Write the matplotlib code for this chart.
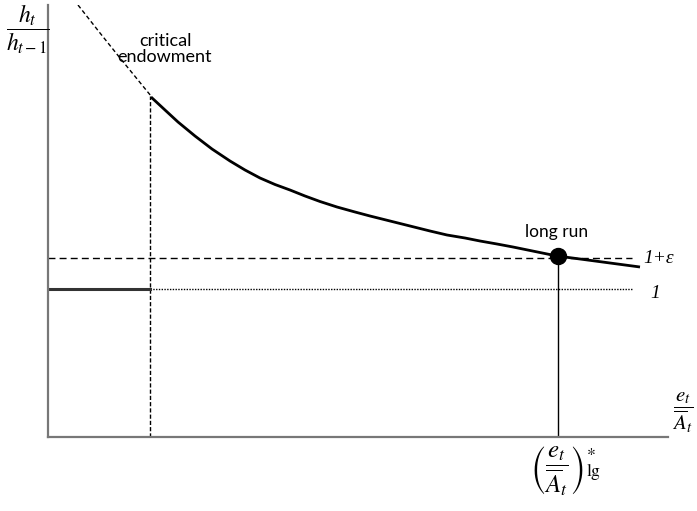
import matplotlib
matplotlib.use("Agg")
import matplotlib.pyplot as plt

plt.rcParams['mathtext.fontset'] = 'stix'

# Data (units ~ pixel offsets from origin)
dashed_x = [30, 52, 72, 103]
dashed_y = [432, 404, 379, 341]
solid_x = [103, 117, 130, 147, 164, 182, 197, 212, 227, 242, 257, 272, 289, 307,
           322, 342, 362, 382, 399, 417, 432, 449, 465, 487, 509, 532, 562, 592]
solid_y = [340, 327, 315, 301, 288, 276, 267, 259, 252.5, 247, 241, 235.5, 230, 225,
           221, 216, 211, 206, 202, 199, 196, 193, 190, 185.5, 181, 178, 174, 170]
critical_x = 102
longrun_x = 510
longrun_y = 181
level_eps = 179
level_one = 148
x_max = 620
y_max = 432

W, H = 697, 511
fig = plt.figure(figsize=(W / 100, H / 100), dpi=100)
ax = fig.add_axes([48 / W, (H - 437) / H, 620 / W, 432 / H])
ax.set_xlim(0, x_max)
ax.set_ylim(0, y_max)
for s in ['top', 'right']:
    ax.spines[s].set_visible(False)
for s in ['left', 'bottom']:
    ax.spines[s].set_color('#777777')
    ax.spines[s].set_linewidth(1.6)
ax.set_xticks([])
ax.set_yticks([])

ax.plot(dashed_x, dashed_y, color='black', lw=1, linestyle=(0, (3, 2)))
ax.plot(solid_x, solid_y, color='black', lw=2, solid_capstyle='butt', solid_joinstyle='round')
ax.plot([critical_x, critical_x], [0, dashed_y[-1]], color='black', lw=1, linestyle=(0, (3, 1.5)))
ax.plot([0, 584], [level_eps, level_eps], color='black', lw=1, linestyle=(0, (5, 3)))
ax.plot([critical_x, 584], [level_one, level_one], color='black', lw=1, linestyle=(0, (1, 1)))
ax.plot([0, critical_x], [level_one, level_one], color='#333333', lw=2.2)
ax.plot([longrun_x, longrun_x], [0, longrun_y], color='black', lw=1)
ax.plot([longrun_x], [longrun_y], 'o', color='black', markersize=11.5)

ax.text(117, 388, 'critical\nendowment', ha='center', va='center', fontsize=13,
        family='Lato', linespacing=1.0, clip_on=False)
ax.text(longrun_x - 1, 205, 'long run', ha='center', va='center', fontsize=12.5,
        family='Lato', clip_on=False)
ax.text(595, level_eps, '1+ε', ha='left', va='center', fontsize=14,
        family='Liberation Serif', style='italic', clip_on=False)
ax.text(602, level_one - 4, '1', ha='left', va='center', fontsize=14,
        family='Liberation Serif', style='italic', clip_on=False)
ax.text(-20, 408, r'$\dfrac{h_t}{h_{t-1}}$', ha='center', va='center', fontsize=17, clip_on=False)
ax.text(635, 24, r'$\dfrac{e_t}{\overline{A}_t}$', ha='center', va='center', fontsize=15, clip_on=False)
ax.text(longrun_x + 8, -33, r'$\left(\dfrac{e_t}{\overline{A}_t}\right)^{*}_{\mathrm{lg}}$',
        ha='center', va='center', fontsize=18, clip_on=False)

fig.savefig('out.png', dpi=100)
